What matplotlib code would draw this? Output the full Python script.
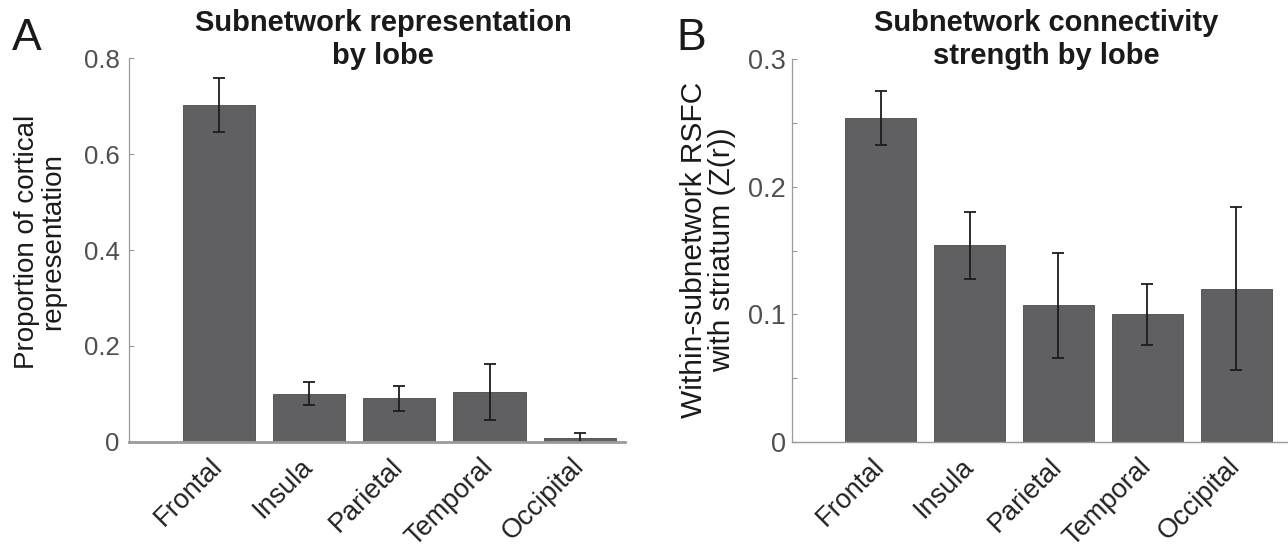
import matplotlib
matplotlib.use("Agg")
import matplotlib.pyplot as plt
import numpy as np

# ---- data ----
lobes = ["Frontal", "Insula", "Parietal", "Temporal", "Occipital"]
rep_values = [0.703, 0.100, 0.091, 0.104, 0.007]
rep_errors = [0.056, 0.024, 0.026, 0.058, 0.011]
conn_values = [0.254, 0.154, 0.107, 0.100, 0.120]
conn_errors = [0.021, 0.026, 0.041, 0.024, 0.064]
rep_yticks = [0, 0.2, 0.4, 0.6, 0.8]
rep_yticklabels = ["0", "0.2", "0.4", "0.6", "0.8"]
conn_yticks = [0, 0.1, 0.2, 0.3]
conn_yticklabels = ["0", "0.1", "0.2", "0.3"]
conn_minor = [0.05, 0.15, 0.25]

plt.rcParams['font.family'] = ['Liberation Sans', 'DejaVu Sans']

W, H = 1288, 552
fig = plt.figure(figsize=(W / 100, H / 100), dpi=100)

bar_color = "#606062"
edge_color = "#4a4a4a"
err_color = "#1c1c1c"
spine_color = "#9a9a9a"
tick_color = "#4f4f4f"

def px(x0, y0, x1, y1):
    return [x0 / W, 1 - y1 / H, (x1 - x0) / W, (y1 - y0) / H]

axA = fig.add_axes(px(128.5, 58.3, 625, 441.7))
axB = fig.add_axes(px(792, 59.3, 1288, 441.7))

def style(ax, vals, errs, xmax, ymax, yticks, yticklabels, bottom_lw,
          ysize, ypad, xsize):
    x = np.arange(1, len(lobes) + 1)
    ax.bar(x, vals, width=0.8, color=bar_color, edgecolor=edge_color,
           linewidth=0.6, zorder=2)
    ax.errorbar(x, vals, yerr=errs, fmt='none', ecolor=err_color,
                elinewidth=1.3, capsize=4.0, capthick=1.3, zorder=3)
    ax.set_xlim(0, xmax)
    ax.set_ylim(0, ymax)
    for s in ['top', 'right']:
        ax.spines[s].set_visible(False)
    ax.spines['left'].set_color(spine_color)
    ax.spines['left'].set_linewidth(0.9)
    ax.spines['bottom'].set_color(spine_color)
    ax.spines['bottom'].set_linewidth(bottom_lw)
    ax.spines['bottom'].set_zorder(4)
    ax.set_yticks(yticks)
    ax.set_yticklabels(yticklabels)
    ax.tick_params(axis='y', direction='in', length=3.5, width=0.8,
                   color=spine_color, labelsize=ysize, labelcolor=tick_color,
                   pad=ypad)
    ax.set_xticks(x)
    ax.set_xticklabels(lobes, rotation=45, ha='right', va='center',
                       rotation_mode='anchor', fontsize=xsize, color='#222222')
    ax.tick_params(axis='x', length=0, pad=15)

style(axA, rep_values, rep_errors, 5.5, 0.8, rep_yticks, rep_yticklabels,
      2.0, 18.5, 6.5, 19.5)
style(axB, conn_values, conn_errors, 5.585, 0.3, conn_yticks,
      conn_yticklabels, 1.0, 19.5, 4.5, 19.5)
axB.set_yticks(conn_minor, minor=True)
axB.tick_params(axis='y', which='minor', direction='in', length=3.5,
                width=0.8, color=spine_color)

# titles
fig.text(383 / W, 1 - 9 / H, "Subnetwork representation\nby lobe",
         ha='center', va='top', fontsize=21, fontweight='bold',
         color='#1a1a1a', linespacing=1.22)
fig.text(1046 / W, 1 - 9 / H, "Subnetwork connectivity\nstrength by lobe",
         ha='center', va='top', fontsize=21, fontweight='bold',
         color='#1a1a1a', linespacing=1.22)

# y labels
fig.text(40 / W, 1 - 242 / H, "Proportion of cortical\nrepresentation",
         rotation=90, ha='center', va='center', fontsize=20,
         color='#1a1a1a', multialignment='center', linespacing=1.0)
fig.text(708 / W, 1 - 250 / H, "Within-subnetwork RSFC\nwith striatum (Z(r))",
         rotation=90, ha='center', va='center', fontsize=21.5,
         color='#1a1a1a', multialignment='center', linespacing=1.0)

# panel letters
fig.text(12 / W, 1 - 50 / H, "A", fontsize=32, va='baseline', ha='left',
         color='#1a1a1a')
fig.text(676 / W, 1 - 50 / H, "B", fontsize=32, va='baseline', ha='left',
         color='#1a1a1a')

fig.savefig("out.png", dpi=100, facecolor='white')
